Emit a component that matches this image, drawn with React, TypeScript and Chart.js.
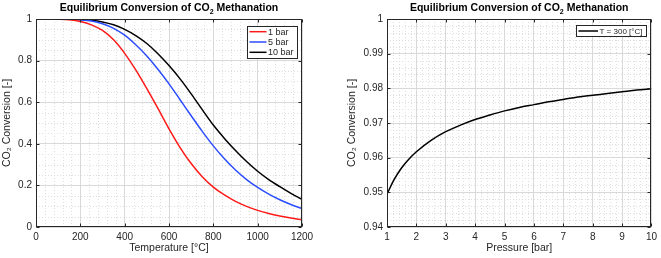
import React, { useEffect, useRef } from "react";
import { Chart, registerables } from "chart.js";

Chart.register(...registerables);

// ---------- data ----------
const temperatureC = [0, 50, 100, 150, 200, 250, 300, 350, 400, 450, 500, 550, 600, 650, 700, 750, 800, 850, 900, 950, 1000, 1050, 1100, 1150, 1200];
const conv1bar = [1.0, 1.0, 0.999, 0.996, 0.988, 0.972, 0.945, 0.9, 0.835, 0.755, 0.665, 0.57, 0.472, 0.382, 0.305, 0.242, 0.192, 0.154, 0.123, 0.099, 0.08, 0.065, 0.053, 0.043, 0.035];
const conv5bar = [1.0, 1.0, 1.0, 0.999, 0.996, 0.99, 0.977, 0.955, 0.922, 0.876, 0.822, 0.758, 0.688, 0.612, 0.535, 0.46, 0.39, 0.328, 0.274, 0.228, 0.19, 0.158, 0.131, 0.108, 0.089];
const conv10bar = [1.0, 1.0, 1.0, 1.0, 0.998, 0.994, 0.986, 0.972, 0.95, 0.92, 0.882, 0.833, 0.776, 0.712, 0.64, 0.564, 0.49, 0.426, 0.368, 0.315, 0.268, 0.228, 0.194, 0.162, 0.133];
const leftLabels = ["1 bar", "5 bar", "10 bar"];
const tempTicks = [0, 200, 400, 600, 800, 1000, 1200];
const convTicks = [0, 0.2, 0.4, 0.6, 0.8, 1];

const pressureBar = [1, 1.25, 1.5, 1.75, 2, 2.5, 3, 3.5, 4, 4.5, 5, 5.5, 6, 6.5, 7, 7.5, 8, 8.5, 9, 9.5, 10];
const conv300C = [0.9495, 0.9538, 0.9571, 0.9596, 0.9617, 0.965, 0.9675, 0.9694, 0.971, 0.9723, 0.9735, 0.9745, 0.9753, 0.9761, 0.9768, 0.9775, 0.978, 0.9785, 0.979, 0.9795, 0.9799];
const rightLabel = "T = 300 [°C]";
const pressureTicks = [1, 2, 3, 4, 5, 6, 7, 8, 9, 10];
const conv300Ticks = [0.94, 0.95, 0.96, 0.97, 0.98, 0.99, 1];

// ---------- styling ----------
const FONT = "'Liberation Sans', Arial, Helvetica, sans-serif";
const TEXT = "#262626";
const AXIS = "#262626";

const fmt = (v: number) => String(Math.round(v * 1000) / 1000);

const matlabPlugin = {
  id: "matlab",
  beforeDraw(chart: any, _args: any, opts: any) {
    const { ctx, chartArea } = chart;
    const { left, right, top, bottom } = chartArea;
    const xs = chart.scales.x;
    const ys = chart.scales.y;
    ctx.save();
    ctx.fillStyle = "#ffffff";
    ctx.fillRect(0, 0, chart.width, chart.height);
    ctx.strokeStyle = "#dedede";
    ctx.lineWidth = 1;
    ctx.setLineDash([1, 2]);
    const xt: number[] = opts.xTicks;
    for (let i = 0; i < xt.length - 1; i++) {
      for (let k = 1; k < opts.xMinor; k++) {
        const v = xt[i] + ((xt[i + 1] - xt[i]) * k) / opts.xMinor;
        const px = Math.round(xs.getPixelForValue(v)) + 0.5;
        ctx.beginPath();
        ctx.moveTo(px, top);
        ctx.lineTo(px, bottom);
        ctx.stroke();
      }
    }
    const yt: number[] = opts.yTicks;
    for (let i = 0; i < yt.length - 1; i++) {
      for (let k = 1; k < opts.yMinor; k++) {
        const v = yt[i] + ((yt[i + 1] - yt[i]) * k) / opts.yMinor;
        const py = Math.round(ys.getPixelForValue(v)) + 0.5;
        ctx.beginPath();
        ctx.moveTo(left, py);
        ctx.lineTo(right, py);
        ctx.stroke();
      }
    }
    ctx.restore();
  },
  afterDatasetsDraw(chart: any, _args: any, opts: any) {
    const { ctx, chartArea } = chart;
    const { left, right, top, bottom } = chartArea;
    const xs = chart.scales.x;
    const ys = chart.scales.y;
    ctx.save();
    ctx.strokeStyle = AXIS;
    ctx.lineWidth = 1;
    const L = Math.round(left) + 0.5;
    const R = Math.round(right) - 0.5;
    const T = Math.round(top) + 0.5;
    const B = Math.round(bottom) - 0.5;
    ctx.strokeRect(L, T, R - L, B - T);
    const tl = 3;
    ctx.beginPath();
    for (const v of opts.xTicks as number[]) {
      const px = Math.round(xs.getPixelForValue(v)) + 0.5;
      ctx.moveTo(px, B);
      ctx.lineTo(px, B - tl);
      ctx.moveTo(px, T);
      ctx.lineTo(px, T + tl);
    }
    for (const v of opts.yTicks as number[]) {
      const py = Math.round(ys.getPixelForValue(v)) + 0.5;
      ctx.moveTo(L, py);
      ctx.lineTo(L + tl, py);
      ctx.moveTo(R, py);
      ctx.lineTo(R - tl, py);
    }
    ctx.stroke();

    // legend
    const lg = opts.legend;
    ctx.fillStyle = "#ffffff";
    ctx.fillRect(lg.x, lg.y, lg.w, lg.h);
    ctx.strokeStyle = AXIS;
    ctx.strokeRect(lg.x + 0.5, lg.y + 0.5, lg.w - 1, lg.h - 1);
    ctx.font = `${lg.size}px ${FONT}`;
    ctx.textBaseline = "middle";
    ctx.textAlign = "left";
    chart.data.datasets.forEach((ds: any, i: number) => {
      const cy = lg.y + lg.first + i * lg.step;
      ctx.strokeStyle = ds.borderColor;
      ctx.lineWidth = 1.5;
      ctx.beginPath();
      ctx.moveTo(lg.x + lg.lx0, cy);
      ctx.lineTo(lg.x + lg.lx1, cy);
      ctx.stroke();
      ctx.fillStyle = TEXT;
      ctx.fillText(ds.label, lg.x + lg.tx, cy + 0.5);
    });

    // title with subscript
    const cx = (left + right) / 2;
    const parts = [
      { t: "Equilibrium Conversion of CO", f: `bold 10.5px ${FONT}`, dy: 0 },
      { t: "2", f: `bold 7px ${FONT}`, dy: 2.5 },
      { t: " Methanation", f: `bold 10.5px ${FONT}`, dy: 0 },
    ];
    let w = 0;
    for (const p of parts) {
      ctx.font = p.f;
      w += ctx.measureText(p.t).width;
    }
    let x = cx - w / 2;
    ctx.fillStyle = "#000000";
    ctx.textBaseline = "alphabetic";
    for (const p of parts) {
      ctx.font = p.f;
      ctx.fillText(p.t, x, 11 + p.dy);
      x += ctx.measureText(p.t).width;
    }
    ctx.restore();
  },
};

function makeOptions(cfg: any) {
  return {
    responsive: false,
    animation: false,
    devicePixelRatio: 1,
    layout: { padding: { top: 19, right: cfg.padRight, bottom: 0, left: 0 } },
    elements: { point: { radius: 0 }, line: { borderWidth: 1.5, cubicInterpolationMode: "monotone" } },
    plugins: {
      legend: { display: false },
      tooltip: { enabled: false },
      title: { display: false },
      matlab: {
        xTicks: cfg.xTicks,
        yTicks: cfg.yTicks,
        xMinor: cfg.xMinor,
        yMinor: cfg.yMinor,
        legend: cfg.legend,
      },
    },
    scales: {
      x: {
        type: "linear",
        min: cfg.xTicks[0],
        max: cfg.xTicks[cfg.xTicks.length - 1],
        afterBuildTicks: (s: any) => {
          s.ticks = cfg.xTicks.map((v: number) => ({ value: v }));
        },
        afterFit: (s: any) => {
          s.height = 31;
        },
        grid: { color: "#d9d9d9", lineWidth: 1, drawTicks: false },
        border: { display: false },
        ticks: {
          padding: 4,
          color: TEXT,
          font: { family: FONT, size: 10 },
          maxRotation: 0,
          autoSkip: false,
          callback: (v: any) => fmt(Number(v)),
        },
        title: {
          display: true,
          text: cfg.xTitle,
          color: TEXT,
          font: { family: FONT, size: 10.5 },
          padding: { top: 0, bottom: 3.5 },
        },
      },
      y: {
        type: "linear",
        min: cfg.yTicks[0],
        max: cfg.yTicks[cfg.yTicks.length - 1],
        afterBuildTicks: (s: any) => {
          s.ticks = cfg.yTicks.map((v: number) => ({ value: v }));
        },
        afterFit: (s: any) => {
          s.width = cfg.yWidth;
        },
        grid: { color: "#d9d9d9", lineWidth: 1, drawTicks: false },
        border: { display: false },
        ticks: {
          padding: 4,
          color: TEXT,
          font: { family: FONT, size: 10 },
          autoSkip: false,
          callback: (v: any) => fmt(Number(v)),
        },
        title: {
          display: true,
          text: "CO₂ Conversion [-]",
          color: TEXT,
          font: { family: FONT, size: 10.5 },
          padding: { top: cfg.yTitlePad, bottom: 0 },
        },
      },
    },
  };
}

function LeftChart() {
  const ref = useRef<HTMLCanvasElement | null>(null);
  useEffect(() => {
    if (!ref.current) return;
    const colors = ["#ff1a1a", "#2b4dff", "#000000"];
    const series = [conv1bar, conv5bar, conv10bar];
    const chart = new Chart(ref.current, {
      type: "line",
      data: {
        datasets: series.map((s, i) => ({
          label: leftLabels[i],
          data: temperatureC.map((t, j) => ({ x: t, y: s[j] })),
          borderColor: colors[i],
          backgroundColor: colors[i],
          fill: false,
        })),
      },
      options: makeOptions({
        padRight: 28,
        yWidth: 36,
        yTitlePad: 1,
        xTicks: tempTicks,
        yTicks: convTicks,
        xMinor: 5,
        yMinor: 4,
        xTitle: "Temperature [°C]",
        legend: { x: 247, y: 26, w: 51, h: 33, first: 5.7, step: 10.3, lx0: 2.5, lx1: 19.5, tx: 21, size: 9 },
      }) as any,
      plugins: [matlabPlugin as any],
    });
    return () => chart.destroy();
  }, []);
  return <canvas ref={ref} width={330} height={258} style={{ position: "absolute", left: 0, top: 0 }} />;
}

function RightChart() {
  const ref = useRef<HTMLCanvasElement | null>(null);
  useEffect(() => {
    if (!ref.current) return;
    const chart = new Chart(ref.current, {
      type: "line",
      data: {
        datasets: [
          {
            label: rightLabel,
            data: pressureBar.map((p, j) => ({ x: p, y: conv300C[j] })),
            borderColor: "#000000",
            backgroundColor: "#000000",
            fill: false,
          },
        ],
      },
      options: makeOptions({
        padRight: 8,
        yWidth: 57,
        yTitlePad: 16,
        xTicks: pressureTicks,
        yTicks: conv300Ticks,
        xMinor: 5,
        yMinor: 5,
        xTitle: "Pressure [bar]",
        legend: { x: 246, y: 25, w: 71, h: 12, first: 6, step: 10, lx0: 2.5, lx1: 22, tx: 23.5, size: 8 },
      }) as any,
      plugins: [matlabPlugin as any],
    });
    return () => chart.destroy();
  }, []);
  return <canvas ref={ref} width={331} height={258} style={{ position: "absolute", left: 330, top: 0 }} />;
}

export default function App() {
  return (
    <div style={{ position: "fixed", left: 0, top: 0, width: 661, height: 258, background: "#fff" }}>
      <LeftChart />
      <RightChart />
    </div>
  );
}
